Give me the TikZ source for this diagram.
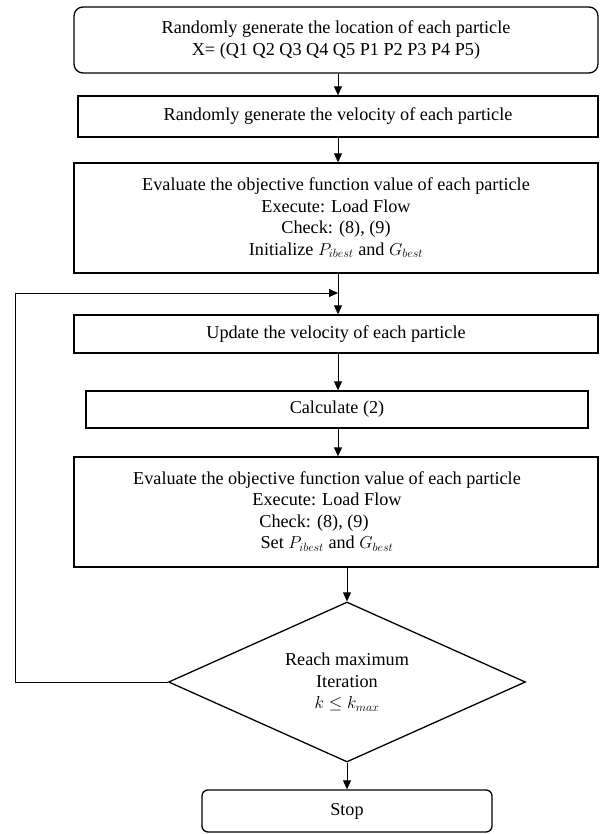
\documentclass[tikz,border=0pt]{standalone}
\usepackage{fontspec}
\setmainfont{Liberation Serif}
\usetikzlibrary{arrows.meta,shapes.geometric}
\begin{document}
\begin{tikzpicture}[x=1pt,y=-1pt,
  box/.style={draw,line width=1.3pt,inner sep=0pt,align=center},
  arr/.style={-{Triangle[width=8pt,length=9pt]},line width=0.9pt},
  font=\fontsize{18.2}{21.5}\selectfont]
\useasboundingbox (0,0) rectangle (599,834);
\node[box,rounded corners=9pt,minimum width=524pt,minimum height=66pt] (b1) at (336,40)
  {Randomly generate the location of each particle\\X= (Q1 Q2 Q3 Q4 Q5 P1 P2 P3 P4 P5)};
\node[box,minimum width=520pt,minimum height=41pt] (b2) at (338,116.5)
  {Randomly generate the velocity of each particle};
\node[box,minimum width=524pt,minimum height=110pt] (b3) at (336,218)
  {Evaluate the objective function value of each particle\\Execute: Load Flow\\Check: (8), (9)\hspace*{30pt}\\Initialize $P_{ibest}$ and $G_{best}$};
\node[box,minimum width=524pt,minimum height=38pt] (b4) at (336,334)
  {Update the velocity of each particle};
\node[box,minimum width=502pt,minimum height=37pt] (b5) at (337,409.5)
  {Calculate (2)};
\node[box,minimum width=524pt,minimum height=110pt] (b6) at (336,512)
  {\hspace*{-18pt}\begin{tabular}{@{}c@{}}Evaluate the objective function value of each particle\\Execute: Load Flow\\Check: (8), (9)\hspace*{26pt}\\Set $P_{ibest}$ and $G_{best}$\end{tabular}};
\node[draw,line width=1.3pt,diamond,aspect=2.23,minimum width=357pt,minimum height=160pt,inner sep=0pt,align=center] (d) at (347,682)
  {Reach maximum\\Iteration\\$k\le k_{max}$};
\node[box,rounded corners=6pt,minimum width=290pt,minimum height=42pt] (st) at (347,811) {Stop};
\coordinate (ax) at (338,0);
\coordinate (m) at (ax |- 0,293);
\coordinate (lt) at (15,293);
\coordinate (lb) at (15,682);
\draw[arr] (b1.south -| ax) -- (b2.north -| ax);
\draw[arr] (b2.south -| ax) -- (b3.north -| ax);
\draw[arr] (b3.south -| ax) -- (b4.north -| ax);
\draw[arr] (b4.south -| ax) -- (b5.north -| ax);
\draw[arr] (b5.south -| ax) -- (b6.north -| ax);
\draw[arr] (b6.south -| d.north) -- (d.north);
\draw[arr] (d.south) -- (st.north);
\draw[arr] (d.west) -- (lb) -- (lt) -- (m);
\end{tikzpicture}
\end{document}
